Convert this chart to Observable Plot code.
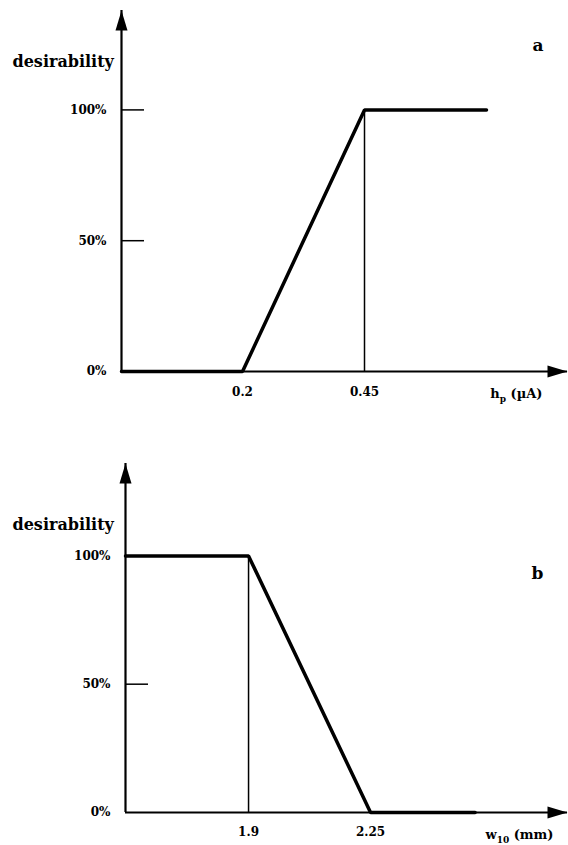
<!DOCTYPE html>
<html><head><meta charset="utf-8">
<script src="https://cdn.jsdelivr.net/npm/d3@7"></script>
<script src="https://cdn.jsdelivr.net/npm/@observablehq/plot@0.6"></script>
<style>
body{margin:0;background:#fff;}
#chart{width:568px;}
#chart svg{display:block;}
</style></head><body><div id="chart"></div>
<script>
// ---- Panel a data ----
const aX = [-0.048, 0.2, 0.45, 0.7];
const aY = [0, 0, 100, 100];
const aTicksX = [0.2, 0.45];
const aTickLabels = ["0.2", "0.45"];
const aThreshold = [0.45];
const aDomainX = [-0.048, 0.866];
const aDomainY = [0, 138];
const aLetter = "a";
const aLabelParts = ["h", "p", " (µA)"];
// ---- Panel b data ----
const bX = [1.547, 1.9, 2.25, 2.55];
const bY = [100, 100, 0, 0];
const bTicksX = [1.9, 2.25];
const bTickLabels = ["1.9", "2.25"];
const bThreshold = [1.9];
const bDomainX = [1.547, 2.815];
const bDomainY = [0, 136];
const bLetter = "b";
const bLabelParts = ["w", "10", " (mm)"];
// ---- shared ----
const yTicks = [0, 50, 100];
const yInnerTicks = [50, 100];
const yLabel = "desirability";

const arrowHead = {draw(ctx){ ctx.moveTo(0,0); ctx.lineTo(6,20); ctx.lineTo(-6,20); ctx.closePath(); }};

function panel(o){
  const pts = o.xs.map((x,i)=>({x, y:o.ys[i]}));
  const heads = [
    {x:o.domainX[0], y:o.domainY[1], rot:0},
    {x:o.domainX[1], y:o.domainY[0], rot:90}
  ];
  const xlabel = o.labelParts.join("");
  const svg = Plot.plot({
    width:568, height:o.height,
    marginTop:o.marginTop, marginBottom:o.marginBottom, marginLeft:o.marginLeft, marginRight:1,
    x:{domain:o.domainX},
    y:{domain:o.domainY},
    style:{fontFamily:"'DejaVu Serif', serif", fontWeight:"bold", fontSize:"12px", color:"black", background:"white"},
    marks:[
      Plot.ruleX([o.domainX[0]], {stroke:"black", strokeWidth:2.2}),
      Plot.ruleY([o.domainY[0]], {stroke:"black", strokeWidth:2.2}),
      Plot.dot(heads, {x:"x", y:"y", rotate:"rot", symbol:arrowHead, fill:"black", stroke:null}),
      Plot.ruleX(o.thr, {y1:0, y2:100, stroke:"black", strokeWidth:1.5}),
      Plot.line(pts, {x:"x", y:"y", stroke:"black", strokeWidth:3.5, strokeLinejoin:"miter"}),
      Plot.axisY({ticks:yInnerTicks, tickSize:-23, fill:"none", stroke:"black", strokeWidth:1.5, label:null}),
      Plot.axisY({ticks:yTicks, tickSize:0, tickPadding:15, tickFormat:d=>d+"%", label:null, fontSize:12}),
      Plot.axisX({ticks:o.ticksX, tickSize:0, tickPadding:o.xPad, tickFormat:(d,i)=>o.tickLabels[i], label:null, fontSize:12}),
      Plot.text([yLabel], {text:d=>d, frameAnchor:"top-left", textAnchor:"start", dx:o.ylDx, dy:o.ylDy, fontSize:16}),
      Plot.text([o.letter], {text:d=>d, frameAnchor:"top-right", dx:o.letDx, dy:o.letDy, fontSize:17}),
      Plot.text([xlabel], {text:d=>d, frameAnchor:"bottom-right", textAnchor:"end", dx:o.xlDx, dy:o.xlDy, fontSize:13})
    ]
  });
  d3.select(svg).selectAll("text").filter(function(){return this.textContent===xlabel;}).each(function(){
    const t = d3.select(this);
    t.text(null);
    t.append("tspan").text(o.labelParts[0]);
    t.append("tspan").attr("font-size", 9).attr("dy", 4).text(o.labelParts[1]);
    t.append("tspan").attr("dy", -4).text(o.labelParts[2]);
  });
  return svg;
}

const chart = document.getElementById("chart");
chart.appendChild(panel({
  xs:aX, ys:aY, domainX:aDomainX, domainY:aDomainY, ticksX:aTicksX, tickLabels:aTickLabels, thr:aThreshold,
  letter:aLetter, labelParts:aLabelParts,
  height:405, marginTop:10, marginBottom:34, marginLeft:121, xPad:16,
  ylDx:-109, ylDy:45, letDx:-24, letDy:28, xlDx:-25, xlDy:26
}));
chart.appendChild(panel({
  xs:bX, ys:bY, domainX:bDomainX, domainY:bDomainY, ticksX:bTicksX, tickLabels:bTickLabels, thr:bThreshold,
  letter:bLetter, labelParts:bLabelParts,
  height:440, marginTop:58, marginBottom:33, marginLeft:125, xPad:15,
  ylDx:-113, ylDy:55, letDx:-24, letDy:103, xlDx:-14, xlDy:26
}));
</script></body></html>
